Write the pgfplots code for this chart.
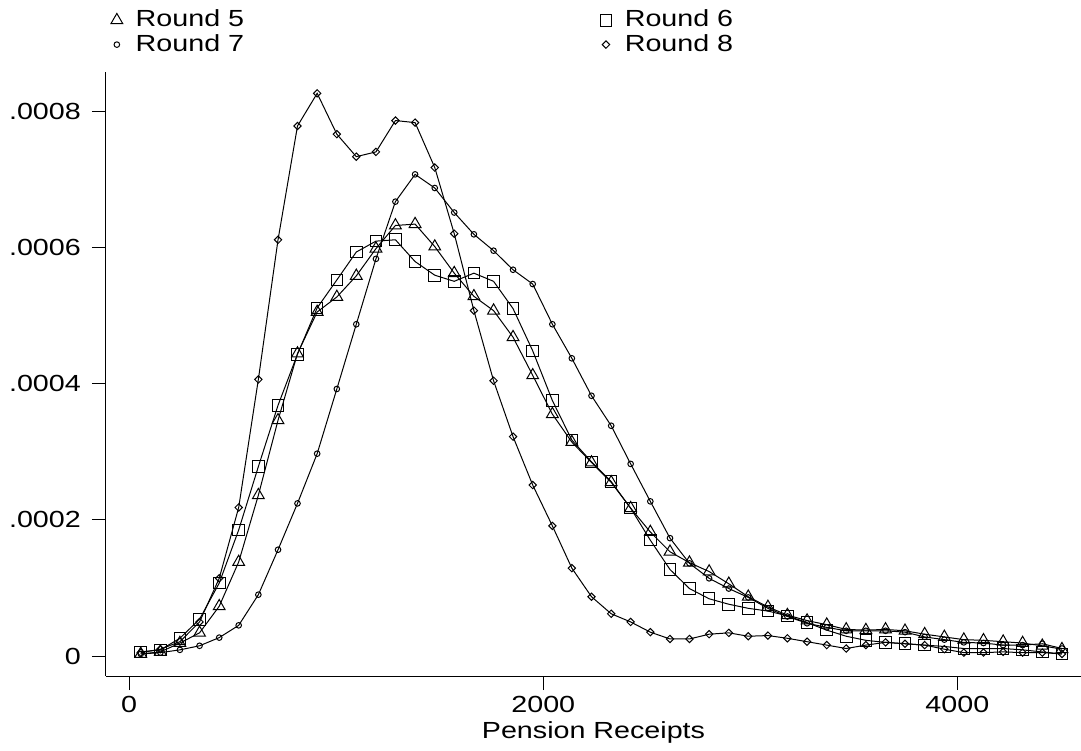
\documentclass[border=0pt]{standalone}
\usepackage{fontspec}
\setmainfont{Liberation Sans}[FakeStretch=1.23]
\usepackage{pgfplots}
\usepackage{pgfplotstable}
\pgfplotsset{compat=1.18}
\pgfplotstableread{
x r5 r6 r7 r8
56 3e-6 6e-6 3e-6 5e-6
151 6e-6 9e-6 5e-6 10e-6
245 19e-6 26e-6 9e-6 21e-6
340 34e-6 54e-6 15e-6 50e-6
435 73e-6 107e-6 27e-6 114e-6
529 138e-6 185e-6 45e-6 218e-6
624 236e-6 278e-6 90e-6 406e-6
719 346e-6 368e-6 156e-6 611e-6
813 444e-6 443e-6 224e-6 778e-6
908 505e-6 511e-6 297e-6 826e-6
1003 527e-6 552e-6 392e-6 766e-6
1097 558e-6 593e-6 487e-6 733e-6
1192 598e-6 609e-6 583e-6 740e-6
1286 632e-6 611e-6 667e-6 786e-6
1381 634e-6 579e-6 707e-6 783e-6
1476 601e-6 559e-6 687e-6 717e-6
1570 562e-6 550e-6 651e-6 620e-6
1665 528e-6 562e-6 619e-6 507e-6
1760 507e-6 550e-6 595e-6 404e-6
1854 468e-6 510e-6 567e-6 322e-6
1949 412e-6 448e-6 546e-6 251e-6
2044 355e-6 375e-6 487e-6 191e-6
2138 314e-6 317e-6 437e-6 129e-6
2233 284e-6 285e-6 382e-6 87e-6
2328 255e-6 256e-6 338e-6 62e-6
2422 217e-6 217e-6 282e-6 50e-6
2517 182e-6 170e-6 227e-6 35e-6
2612 153e-6 127e-6 173e-6 25e-6
2706 137e-6 99e-6 136e-6 25e-6
2801 124e-6 84e-6 114e-6 32e-6
2896 106e-6 76e-6 99e-6 34e-6
2990 87e-6 70e-6 86e-6 29e-6
3085 72e-6 66e-6 70e-6 30e-6
3179 60e-6 59e-6 58e-6 26e-6
3274 52e-6 49e-6 48e-6 21e-6
3369 46e-6 38e-6 42e-6 16e-6
3463 39e-6 29e-6 37e-6 11e-6
3558 38e-6 23e-6 37e-6 16e-6
3653 39e-6 20e-6 37e-6 20e-6
3747 37e-6 18e-6 35e-6 18e-6
3842 32e-6 16e-6 28e-6 16e-6
3937 28e-6 14e-6 24e-6 10e-6
4031 24e-6 11e-6 20e-6 5e-6
4126 23e-6 11e-6 19e-6 5e-6
4221 21e-6 11e-6 16e-6 6e-6
4315 19e-6 9e-6 16e-6 5e-6
4410 15e-6 6e-6 18e-6 5e-6
4505 10e-6 3e-6 11e-6 3e-6
}\data
\begin{document}
\fontsize{11.66pt}{14pt}\selectfont
\begin{tikzpicture}
\begin{axis}[
  scale only axis, width=487.5pt, height=302pt,
  xmin=-111.8, xmax=4597, ymin=-0.00002936, ymax=0.0008573,
  axis x line*=bottom, axis y line*=left,
  axis line style={line width=0.5pt},
  tick align=outside, major tick length=7pt,
  tick style={line width=0.5pt, black},
  xtick={0,2000,4000}, xticklabels={0,2000,4000},
  ytick={0,0.0002,0.0004,0.0006,0.0008},
  yticklabels={0,.0002,.0004,.0006,.0008},
  yticklabel style={xshift=-1.5pt},
  xticklabel style={yshift=0.8pt},
  scaled y ticks=false, scaled x ticks=false,
  xlabel={Pension Receipts},
  xlabel style={at={(axis description cs:0.5,0)}, anchor=base, yshift=-31.35pt},
  every axis plot/.append style={black, line width=0.5pt},
  legend image code/.code={\draw[#1] plot coordinates {(0pt,0pt)};},
  legend columns=2,
  legend cell align=left,
  legend style={draw=none, fill=none, inner sep=0pt, outer sep=0pt,
    at={(axis description cs:0.0051,1.1026)}, anchor=north west,
    row sep=2pt,
    nodes={inner sep=0pt},
    /tikz/every odd column/.append style={column sep=6.5pt},
    /tikz/every even column/.append style={column sep=178pt}},
]
\coordinate (O) at (rel axis cs:0,0);
\addplot[mark=triangle, mark size=3.4pt, mark options={solid}] table[x=x,y=r5]{\data};
\addplot[mark=square, mark size=2.9pt, mark options={solid}] table[x=x,y=r6]{\data};
\addplot[mark=o, mark size=1.4pt, mark options={solid}] table[x=x,y=r7]{\data};
\addplot[mark=square, mark size=1.3pt, mark options={solid, rotate=45}] table[x=x,y=r8]{\data};
\legend{}
\addlegendimage{only marks, mark=triangle, mark size=3.2pt}
\addlegendentry{Round 5}
\addlegendimage{only marks, mark=square, mark size=1.7pt}
\addlegendentry{Round 6}
\addlegendimage{only marks, mark=o, mark size=1.25pt}
\addlegendentry{Round 7}
\addlegendimage{only marks, mark=square, mark size=1.06pt, mark options={rotate=45}}
\addlegendentry{Round 8}
\end{axis}
\pgfresetboundingbox
\path[use as bounding box] ([shift={(-53pt,-37pt)}]O) rectangle ++(540.5pt,375pt);
\end{tikzpicture}
\end{document}
